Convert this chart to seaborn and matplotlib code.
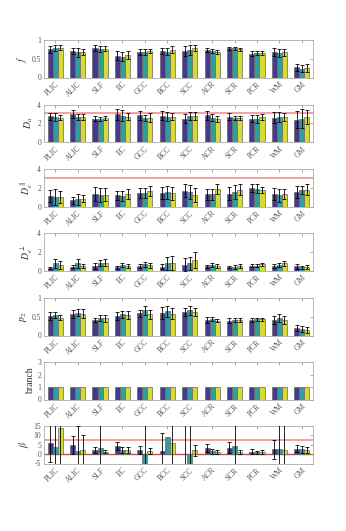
import numpy as np
import pandas as pd
import seaborn as sns
from matplotlib import pyplot as plt

regions = ["PLIC", "ALIC", "SLF", "EC", "GCC", "BCC", "SCC", "ACR", "SCR", "PCR", "WM", "GM"]
groups = ["A", "B", "C"]
colors = ["#3b2c9e", "#20b0a6", "#f5f518"]

# one row per group (A, B, C), one column per region
f_mean = [[0.75, 0.70, 0.80, 0.58, 0.69, 0.72, 0.71, 0.73, 0.78, 0.64, 0.68, 0.27],
          [0.79, 0.68, 0.77, 0.55, 0.69, 0.69, 0.74, 0.71, 0.78, 0.65, 0.65, 0.24],
          [0.80, 0.69, 0.77, 0.60, 0.71, 0.74, 0.79, 0.68, 0.76, 0.66, 0.67, 0.26]]
f_err = [[0.10, 0.08, 0.08, 0.12, 0.08, 0.08, 0.13, 0.05, 0.04, 0.06, 0.11, 0.10],
         [0.08, 0.12, 0.08, 0.12, 0.08, 0.10, 0.13, 0.05, 0.04, 0.05, 0.11, 0.10],
         [0.06, 0.08, 0.07, 0.10, 0.06, 0.09, 0.08, 0.05, 0.04, 0.05, 0.09, 0.10]]

da_mean = [[2.75, 3.00, 2.50, 2.95, 2.85, 2.80, 2.50, 2.85, 2.70, 2.50, 2.60, 2.40],
           [2.65, 2.65, 2.45, 2.80, 2.55, 2.70, 2.75, 2.60, 2.55, 2.45, 2.70, 2.50],
           [2.60, 2.65, 2.55, 2.70, 2.60, 2.70, 2.80, 2.45, 2.55, 2.65, 2.65, 2.65]]
da_err = [[0.35, 0.40, 0.30, 0.60, 0.45, 0.50, 0.50, 0.45, 0.35, 0.35, 0.55, 0.95],
          [0.40, 0.35, 0.25, 0.60, 0.30, 0.45, 0.45, 0.40, 0.25, 0.40, 0.55, 1.00],
          [0.30, 0.35, 0.25, 0.40, 0.45, 0.40, 0.40, 0.35, 0.25, 0.35, 0.45, 0.75]]

dpar_mean = [[1.10, 0.65, 1.30, 1.20, 1.45, 1.40, 1.70, 1.30, 1.35, 1.95, 1.35, 1.55],
             [1.05, 0.75, 1.20, 1.10, 1.45, 1.50, 1.50, 1.30, 1.55, 1.90, 1.20, 1.75],
             [1.05, 0.85, 1.25, 1.35, 1.65, 1.40, 1.25, 1.85, 1.80, 1.75, 1.35, 1.80]]
dpar_err = [[0.65, 0.35, 0.75, 0.50, 0.55, 0.65, 0.70, 0.60, 0.70, 0.40, 0.65, 0.60],
            [0.85, 0.60, 0.75, 0.55, 0.55, 0.70, 0.75, 0.60, 0.70, 0.50, 0.70, 0.45],
            [0.65, 0.40, 0.70, 0.55, 0.55, 0.70, 0.75, 0.50, 0.55, 0.35, 0.55, 0.55]]

dperp_mean = [[0.30, 0.40, 0.50, 0.35, 0.45, 0.40, 0.60, 0.45, 0.35, 0.50, 0.50, 0.45],
              [0.75, 0.75, 0.80, 0.60, 0.65, 0.75, 0.75, 0.60, 0.40, 0.50, 0.60, 0.35],
              [0.60, 0.50, 0.85, 0.50, 0.55, 0.85, 1.10, 0.50, 0.45, 0.65, 0.75, 0.35]]
dperp_err = [[0.10, 0.15, 0.30, 0.15, 0.20, 0.25, 0.70, 0.15, 0.10, 0.15, 0.20, 0.25],
             [0.45, 0.45, 0.30, 0.20, 0.30, 0.65, 0.70, 0.25, 0.20, 0.15, 0.25, 0.15],
             [0.45, 0.20, 0.35, 0.20, 0.25, 0.75, 0.85, 0.20, 0.20, 0.20, 0.30, 0.20]]

p2_mean = [[0.52, 0.58, 0.41, 0.52, 0.59, 0.60, 0.63, 0.41, 0.40, 0.42, 0.42, 0.19],
           [0.55, 0.61, 0.47, 0.57, 0.67, 0.65, 0.68, 0.44, 0.42, 0.43, 0.47, 0.17],
           [0.48, 0.58, 0.46, 0.55, 0.57, 0.58, 0.62, 0.40, 0.42, 0.43, 0.41, 0.15]]
p2_err = [[0.10, 0.10, 0.06, 0.11, 0.10, 0.15, 0.10, 0.08, 0.06, 0.05, 0.11, 0.08],
          [0.08, 0.10, 0.08, 0.09, 0.11, 0.15, 0.12, 0.06, 0.06, 0.05, 0.10, 0.08],
          [0.06, 0.12, 0.09, 0.10, 0.12, 0.15, 0.11, 0.05, 0.05, 0.05, 0.10, 0.07]]

branch_mean = [[1] * 12, [1] * 12, [1] * 12]
branch_err = [[0] * 12, [0] * 12, [0] * 12]

beta_mean = [[5.8, 4.9, 2.2, 4.3, 2.2, 1.7, 0.2, 3.1, 3.4, 1.4, 2.7, 2.8],
             [3.8, 1.5, 3.4, 2.2, -7.0, 9.0, -6.0, 1.6, 4.3, 1.0, 2.9, 2.5],
             [14.0, 2.0, 1.3, 2.0, 1.5, 6.0, 2.1, 1.2, 1.3, 1.3, 2.3, 2.3]]
beta_err = [[9.8, 4.6, 1.6, 2.3, 2.0, 9.8, 20.0, 2.1, 3.0, 1.2, 5.1, 1.9],
            [20.0, 13.5, 20.0, 1.6, 25.0, 0.0, 25.0, 1.4, 20.0, 0.9, 20.0, 1.8],
            [20.0, 8.0, 0.7, 1.6, 1.6, 20.0, 3.0, 1.0, 1.0, 1.0, 20.0, 1.5]]

panels = [
    ("$f$", f_mean, f_err, (0, 1), [0, 0.5, 1], []),
    ("$D_a$", da_mean, da_err, (0, 4), [0, 2, 4], [3.05]),
    ("$D_e^{\\parallel}$", dpar_mean, dpar_err, (0, 4), [0, 2, 4], [3.05]),
    ("$D_e^{\\perp}$", dperp_mean, dperp_err, (0, 4), [0, 2, 4], []),
    ("$p_2$", p2_mean, p2_err, (0, 1), [0, 0.5, 1], []),
    ("branch", branch_mean, branch_err, (0, 3), [0, 1, 2, 3], []),
    ("$\\beta$", beta_mean, beta_err, (-5, 15), [-5, 0, 5, 10, 15], [7.5]),
]

sns.set_style("white")
plt.rcParams["font.family"] = ["Liberation Serif", "DejaVu Serif"]
plt.rcParams["mathtext.fontset"] = "stix"

fig = plt.figure(figsize=(3.46, 5.31), dpi=100)
tops = [40, 104.5, 169, 233, 298, 362, 426]
height = 37.5
tick_grey = "#555555"

for (label, means, errs, ylim, yticks, hlines), top in zip(panels, tops):
    ax = fig.add_axes([44 / 346, 1 - (top + height) / 531, 269 / 346, height / 531])
    df = pd.DataFrame(
        [(r, g, means[gi][ri]) for gi, g in enumerate(groups) for ri, r in enumerate(regions)],
        columns=["region", "group", "value"],
    )
    for h in hlines:
        ax.axhline(h, color="#f4a0a0", linewidth=1.4, zorder=0.5)
    if label == "$\\beta$":
        ax.axhline(0, color="#c0504d", linewidth=1.0, zorder=0.5)
    sns.barplot(data=df, x="region", y="value", hue="group", order=regions, hue_order=groups,
                palette=colors, width=0.68, errorbar=None, legend=False,
                edgecolor="#666666", linewidth=0.5, ax=ax)

    # error bars at the bar centres seaborn placed
    bars = [p for p in ax.patches][: len(groups) * len(regions)]
    for gi in range(len(groups)):
        for ri in range(len(regions)):
            e = errs[gi][ri]
            if e <= 0:
                continue
            p = bars[gi * len(regions) + ri]
            xc = p.get_x() + p.get_width() / 2
            ax.errorbar(xc, means[gi][ri], yerr=e, fmt="none", ecolor="black",
                        elinewidth=0.6, capsize=1.6, capthick=0.6, zorder=3)

    ax.set_ylim(*ylim)
    ax.set_xlim(-0.5, len(regions) - 0.5)
    ax.set_yticks(yticks)
    ax.set_yticklabels([f"{t:g}" for t in yticks])
    ax.set_xlabel("")
    ax.set_ylabel(label, fontsize=7, color="#333333", labelpad=2)
    ax.set_xticks(range(len(regions)))
    ax.set_xticklabels(regions, rotation=45, ha="right", rotation_mode="anchor")
    ax.tick_params(direction="in", length=2.5, width=0.5, top=True, right=True,
                   labelsize=5.5, labelcolor=tick_grey, colors="#888888", pad=2)
    for side in ax.spines.values():
        side.set_color("#aaaaaa")
        side.set_linewidth(0.6)

fig.savefig("out.png", dpi=100)
